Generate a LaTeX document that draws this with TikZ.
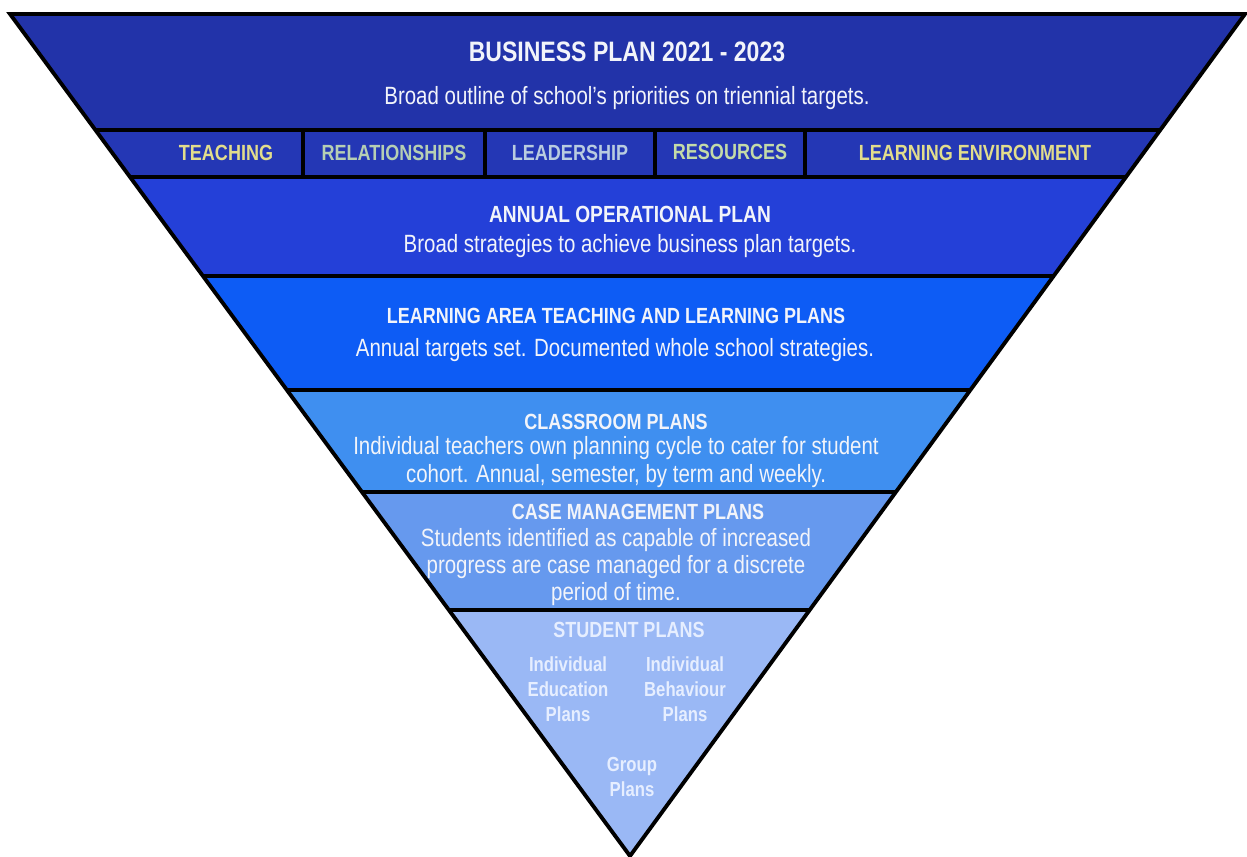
\documentclass[tikz,border=0pt]{standalone}
\usepackage{fontspec}
\setmainfont{Liberation Sans}[FakeStretch=0.82]
\usetikzlibrary{calc}

\definecolor{bpblue}{HTML}{2233A9}
\definecolor{prblue}{HTML}{2437B5}
\definecolor{aopblue}{HTML}{2440D8}
\definecolor{lablue}{HTML}{0D5CF5}
\definecolor{crblue}{HTML}{3F8FF0}
\definecolor{cmblue}{HTML}{6699EE}
\definecolor{spblue}{HTML}{9AB8F5}
\definecolor{palewhite}{HTML}{F2F4FA}
\definecolor{teachyellow}{HTML}{E2DD8C}
\definecolor{relsage}{HTML}{B6CFB4}
\definecolor{leadgrey}{HTML}{B9CCE0}
\definecolor{resgreen}{HTML}{C4DBA8}
\definecolor{spwhite}{HTML}{E6EEFF}

\tikzset{
  bandline/.style={line width=1.8pt, black},
  title/.style={text=palewhite, font=\bfseries\fontsize{12.5}{14}\selectfont, inner sep=0pt},
  body/.style={text=palewhite, font=\fontsize{14.2}{16}\selectfont, align=center, inner sep=0pt},
  priority/.style={font=\bfseries\fontsize{12.5}{14}\selectfont, inner sep=0pt},
  studentplan/.style={text=spwhite, font=\bfseries\fontsize{11.6}{14.2}\selectfont, align=center, inner sep=0pt}
}

\begin{document}
\begin{tikzpicture}[x=0.02cm, y=-0.02cm]
	\useasboundingbox (0,0) rectangle (1247,857);
	
	% corners of the inverted triangle
	\coordinate (TL) at (10,14);
	\coordinate (TR) at (1245,14);
	\coordinate (apex) at (630,856);
	
	% --- coloured bands ---
	\foreach \ytop/\ybot/\col in {14/130/bpblue, 130/177/prblue, 177/276/aopblue, 276/390/lablue, 390/492/crblue, 492/610/cmblue, 610/856/spblue} {
		\pgfmathsetmacro{\ft}{(\ytop-14)/842}
		\pgfmathsetmacro{\fb}{(\ybot-14)/842}
		\fill[\col] ($(TL)!\ft!(apex)$) -- ($(TR)!\ft!(apex)$)
		-- ($(TR)!\fb!(apex)$) -- ($(TL)!\fb!(apex)$) -- cycle;
	}
	
	% --- band separators ---
	\foreach \y in {130,177,276,390,492,610} {
		\pgfmathsetmacro{\f}{(\y-14)/842}
		\draw[bandline] ($(TL)!\f!(apex)$) -- ($(TR)!\f!(apex)$);
	}
	
	% dividers of the priorities row
	\foreach \x in {303,485,655,805} {
		\draw[bandline] (\x,130) -- (\x,177);
	}
	
	% outline
	\draw[line width=2.2pt, line join=miter] (TL) -- (TR) -- (apex) -- cycle;
	
	% --- business plan ---
	\node[title, font=\bfseries\fontsize{16}{18}\selectfont] (bp) at (627,52) {BUSINESS PLAN 2021 - 2023};
	\node[body] (bpText) at (627,98) {Broad outline of school’s priorities on triennial targets.};
	
	% --- priorities ---
	\node[priority, text=teachyellow] (teaching) at (226,153) {TEACHING};
	\node[priority, text=relsage] (relationships) at (394,153) {RELATIONSHIPS};
	\node[priority, text=leadgrey] (leadership) at (570,153) {LEADERSHIP};
	\node[priority, text=resgreen] (resources) at (730,152) {RESOURCES};
	\node[priority, text=teachyellow] (environment) at (975,153) {LEARNING ENVIRONMENT};
	
	% --- annual operational plan ---
	\node[title, font=\bfseries\fontsize{13.3}{15}\selectfont] (aop) at (630,214) {ANNUAL OPERATIONAL PLAN};
	\node[body] (aopText) at (630,246) {Broad strategies to achieve business plan targets.};
	
	% --- learning area plans ---
	\node[title] (la) at (616,316) {LEARNING AREA TEACHING AND LEARNING PLANS};
	\node[body] (laText) at (615,350) {Annual targets set. Documented whole school strategies.};
	
	% --- classroom plans ---
	\node[title] (cr) at (616,422) {CLASSROOM PLANS};
	\node[body] (crText) at (616,462) {Individual teachers own planning cycle to cater for student\\cohort. Annual, semester, by term and weekly.};
	
	% --- case management plans ---
	\node[title] (cm) at (638,512) {CASE MANAGEMENT PLANS};
	\node[body, font=\fontsize{14.2}{15.6}\selectfont] (cmText) at (616,567) {Students identified as capable of increased\\progress are case managed for a discrete\\period of time.};
	
	% --- student plans ---
	\node[title, text=spwhite] (sp) at (629,630) {STUDENT PLANS};
	\node[studentplan] (iep) at (568,689) {Individual\\Education\\Plans};
	\node[studentplan] (ibp) at (685,689) {Individual\\Behaviour\\Plans};
	\node[studentplan] (group) at (632,777) {Group\\Plans};
	
\end{tikzpicture}
\end{document}
